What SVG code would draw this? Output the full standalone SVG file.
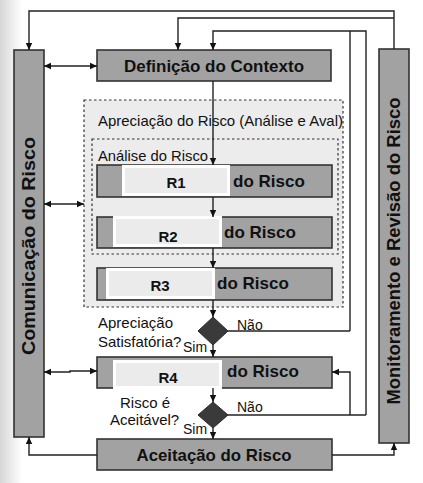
<svg xmlns="http://www.w3.org/2000/svg" width="423" height="483" viewBox="0 0 423 483">
<defs>
<linearGradient id="edge" x1="0" y1="0" x2="1" y2="0">
<stop offset="0" stop-color="#d6d6d6"/>
<stop offset="1" stop-color="#ffffff"/>
</linearGradient>
<marker id="ah" markerWidth="8" markerHeight="8" refX="7" refY="4" orient="auto-start-reverse" markerUnits="userSpaceOnUse">
<path d="M0,0.8 L7,4 L0,7.2 Z" fill="#111"/>
</marker>
<style>
.box{fill:#a2a2a2;stroke:#333;stroke-width:1.6}
.dash{fill:#ececec;stroke:#333;stroke-width:1.2;stroke-dasharray:2.5 2.5}
.cover{fill:#ffffff}
.coverin{fill:#ebebeb}
.ln{fill:none;stroke:#222;stroke-width:1.4}
.arr{marker-end:url(#ah)}
.dbl{marker-start:url(#ah);marker-end:url(#ah)}
.dia{fill:#3a3a3a;stroke:#2a2a2a;stroke-width:1}
.bt{font-family:"Liberation Sans",Arial,sans-serif;font-weight:bold;fill:#111}
.rt{font-family:"Liberation Sans",Arial,sans-serif;fill:#111}
</style>
</defs>
<rect x="0" y="0" width="423" height="483" fill="#ffffff"/>
<rect x="0" y="0" width="22" height="483" fill="url(#edge)"/>

<g id="apreciacao">
<rect class="dash" x="84" y="100" width="259" height="207"/>
<text class="rt" x="98" y="126" font-size="15" textLength="245" lengthAdjust="spacingAndGlyphs">Apreciação do Risco (Análise e Aval)</text>
</g>
<g id="analise">
<rect class="dash" x="92" y="139" width="246" height="115"/>
<text class="rt" x="98" y="161" font-size="15" textLength="110" lengthAdjust="spacingAndGlyphs">Análise do Risco</text>
</g>

<g id="comunicacao">
<rect class="box" x="14" y="50" width="30" height="387"/>
<text class="bt" transform="translate(35,246) rotate(-90)" text-anchor="middle" font-size="18" textLength="218" lengthAdjust="spacingAndGlyphs">Comunicação do Risco</text>
</g>
<g id="monitoramento">
<rect class="box" x="379" y="49" width="30" height="394"/>
<text class="bt" transform="translate(400,251) rotate(-90)" text-anchor="middle" font-size="18" textLength="307" lengthAdjust="spacingAndGlyphs">Monitoramento e Revisão do Risco</text>
</g>

<g id="definicao">
<rect class="box" x="97" y="50" width="234" height="31"/>
<text class="bt" x="214" y="72" text-anchor="middle" font-size="17" textLength="180" lengthAdjust="spacingAndGlyphs">Definição do Contexto</text>
</g>

<g id="r1">
<rect class="box" x="97" y="165" width="235" height="32"/>
<rect class="cover" x="122" y="165" width="108" height="31"/>
<rect class="coverin" x="125" y="168" width="102" height="25"/>
<text class="bt" x="176" y="188" text-anchor="middle" font-size="15">R1</text>
<text class="bt" x="233" y="187" font-size="17">do Risco</text>
</g>
<g id="r2">
<rect class="box" x="97" y="217" width="235" height="31"/>
<rect class="cover" x="113" y="216" width="109" height="31"/>
<rect class="coverin" x="116" y="219" width="103" height="25"/>
<text class="bt" x="168" y="242" text-anchor="middle" font-size="15">R2</text>
<text class="bt" x="224" y="238" font-size="17">do Risco</text>
</g>
<g id="r3">
<rect class="box" x="97" y="268" width="235" height="32"/>
<rect class="cover" x="106" y="268" width="109" height="31"/>
<rect class="coverin" x="109" y="271" width="103" height="25"/>
<text class="bt" x="160" y="291" text-anchor="middle" font-size="15">R3</text>
<text class="bt" x="217" y="289" font-size="17">do Risco</text>
</g>
<g id="d1">
<polygon class="dia" points="213,317 228,331 213,345 198,331"/>
<text class="rt" x="98" y="328" font-size="15">Apreciação</text>
<text class="rt" x="98" y="347" font-size="15">Satisfatória?</text>
<text class="rt" x="183" y="352" font-size="14">Sim</text>
<text class="rt" x="237" y="330" font-size="14">Não</text>
</g>
<g id="r4">
<rect class="box" x="97" y="357" width="235" height="31"/>
<rect class="cover" x="113" y="360" width="109" height="29"/>
<rect class="coverin" x="116" y="363" width="103" height="23"/>
<text class="bt" x="168" y="383" text-anchor="middle" font-size="15">R4</text>
<text class="bt" x="227" y="377" font-size="17">do Risco</text>
</g>
<g id="d2">
<polygon class="dia" points="213,402 228,415 213,428 198,415"/>
<text class="rt" x="120" y="408" font-size="15">Risco é</text>
<text class="rt" x="110" y="425" font-size="15">Aceitável?</text>
<text class="rt" x="183" y="434" font-size="14">Sim</text>
<text class="rt" x="237" y="412" font-size="14">Não</text>
</g>
<g id="aceitacao">
<rect class="box" x="97" y="439" width="235" height="31"/>
<text class="bt" x="214" y="461" text-anchor="middle" font-size="17" textLength="155" lengthAdjust="spacingAndGlyphs">Aceitação do Risco</text>
</g>

<g id="connectors">
<path class="ln arr" d="M394,49 V11 H29 V50"/>
<path class="ln arr" d="M394,18 H178 V50"/>
<path class="ln arr" d="M366,415 V31 H213 V50"/>
<path class="ln" d="M350,331 V31"/>
<path class="ln arr" d="M213,81 V165"/>
<path class="ln arr" d="M213,197 V217"/>
<path class="ln arr" d="M213,248 V268"/>
<path class="ln arr" d="M213,300 V317"/>
<path class="ln" d="M228,331 H350"/>
<path class="ln arr" d="M213,345 V357"/>
<path class="ln arr" d="M213,388 V402"/>
<path class="ln" d="M228,415 H366"/>
<path class="ln arr" d="M350,415 V372 H332"/>
<path class="ln arr" d="M213,428 V439"/>
<path class="ln arr" d="M97,455 H29 V437"/>
<path class="ln arr" d="M332,455 H394 V443"/>
<path class="ln dbl" d="M44,66 H97"/>
<path class="ln dbl" d="M44,204 H84"/>
<path class="ln dbl" d="M44,372 H70 V371 H97"/>
</g>
</svg>
